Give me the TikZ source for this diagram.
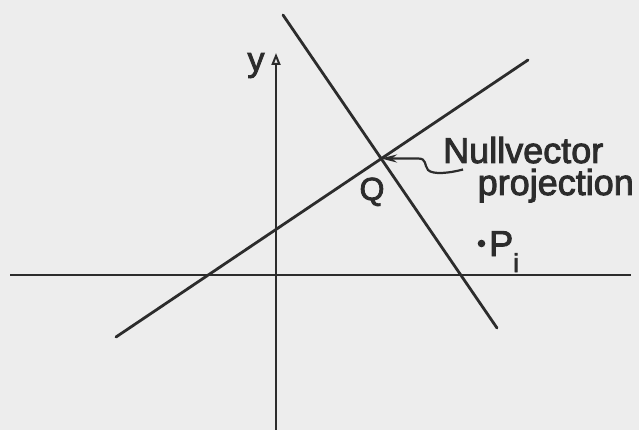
\documentclass[tikz,border=0pt]{standalone}
\usepackage{fontspec}
\setmainfont{Liberation Sans}[BoldFont={Liberation Sans}, BoldFeatures={FakeBold=2.6}]
\usetikzlibrary{arrows.meta}
\definecolor{ink}{HTML}{2C2C2C}
\definecolor{paper}{HTML}{EDEDED}
\tikzset{
  lineink/.style={draw=ink, line width=2.8pt, line cap=round},
  axisline/.style={draw=ink, line width=2.4pt},
  lbl/.style={text=ink, inner sep=0pt, font=\fontsize{36}{36}\selectfont\bfseries},
}
\begin{document}
\begin{tikzpicture}[x=1pt,y=-1pt]
\fill[paper] (0,0) rectangle (639,430);
\useasboundingbox (0,0) rectangle (639,430);
% coordinates
\coordinate (xl) at (10,275);
\coordinate (xr) at (631,275);
\coordinate (yb) at (276,430);
\coordinate (yt) at (276,53);
\coordinate (sa) at (116,337);
\coordinate (sb) at (528,60);
\coordinate (ta) at (283,15);
\coordinate (tb) at (497,328);
\coordinate (Q) at (381,158.5);
\coordinate (sq) at (463,169.5);
% axes
\draw[axisline] (xl) -- (xr);
\draw[axisline, -{Triangle[open,length=12pt,width=9pt,line width=2pt]}] (yb) -- (yt);
% lines
\draw[lineink] (sa) -- (sb);
\draw[lineink] (ta) -- (tb);
% pointer
\draw[draw=ink, line width=2.2pt, -{Stealth[length=16pt,width=8pt]}]
  (sq) .. controls (450,173) and (433,175) .. (428,170)
       .. controls (424,165) and (427,158.5) .. (418,158.5) -- (Q);
% labels
\node[lbl, anchor=base west] (nv) at (443,163) {Nullvector};
\node[lbl, anchor=base east] (pr) at (634,195) {projection};
\node[lbl, font=\fontsize{32}{32}\selectfont\bfseries, anchor=base] (ql) at (372,200) {Q};
\node[lbl, font=\fontsize{34}{34}\selectfont\bfseries, anchor=base] (yl) at (256,71) {y};
\fill[ink] (481.5,243.5) circle (3.8pt);
\node[lbl, anchor=base west] (pl) at (489,256) {P};
\node[lbl, font=\fontsize{26}{26}\selectfont\bfseries, anchor=base west] (il) at (513,272) {i};
\end{tikzpicture}
\end{document}
